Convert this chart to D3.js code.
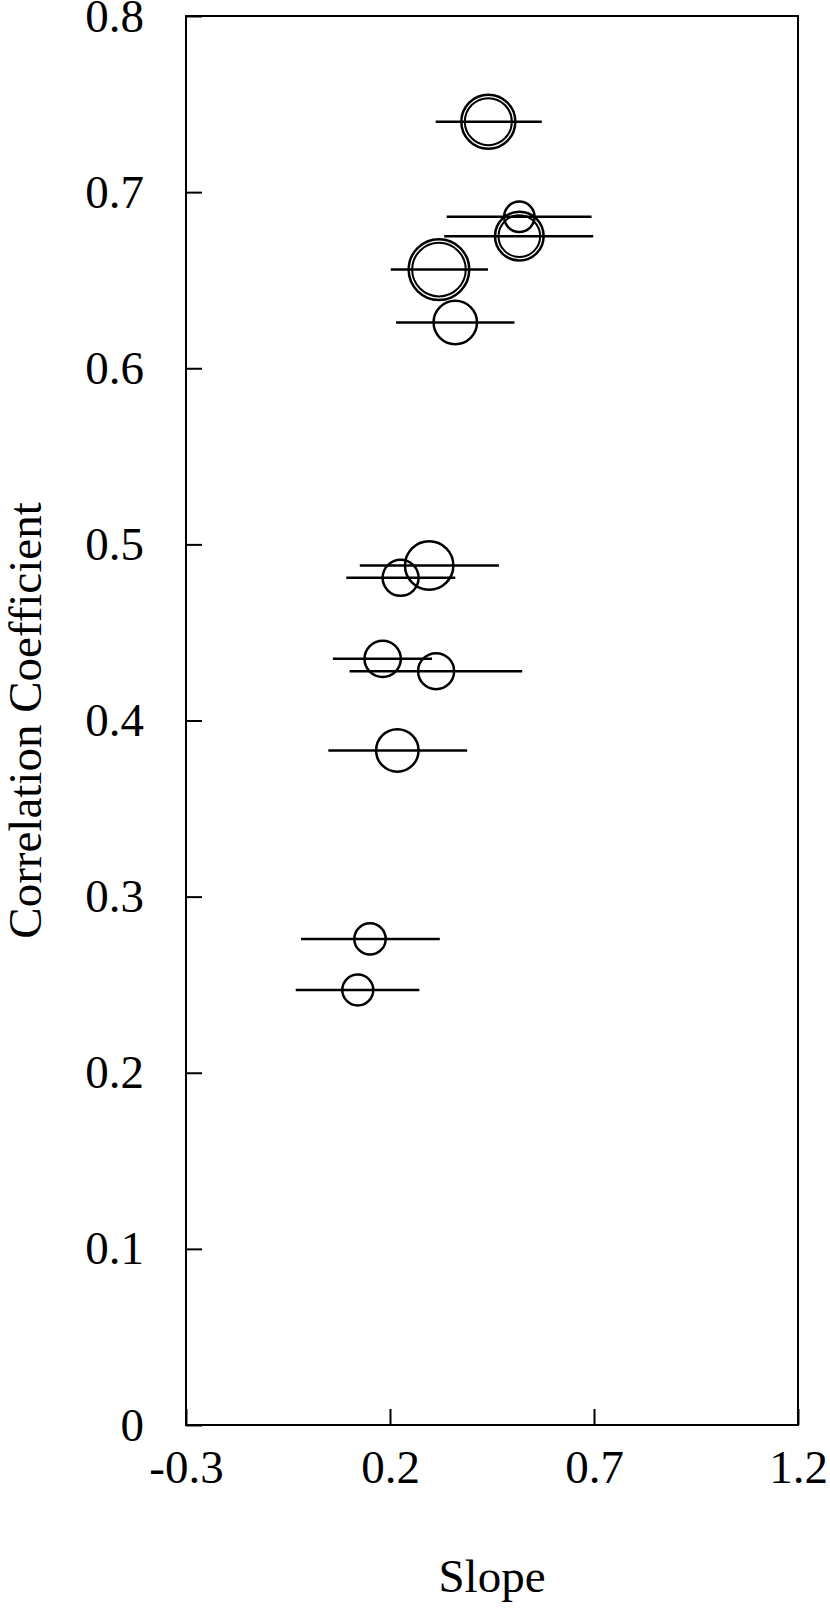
<!DOCTYPE html>
<html>
<head>
<meta charset="utf-8">
<script src="https://cdn.jsdelivr.net/npm/d3@7"></script>
<style>
  body { margin: 0; background: #fff; }
  text { font-family: "Liberation Serif", "Times New Roman", serif; fill: #000; }
</style>
</head>
<body>
<script>
// Data
var slope      = [0.441, 0.517, 0.517, 0.320, 0.360, 0.296, 0.226, 0.182, 0.313, 0.218, 0.151, 0.121];
var corr       = [0.740, 0.686, 0.675, 0.656, 0.626, 0.488, 0.481, 0.435, 0.428, 0.383, 0.276, 0.247];
var slopeLow   = [0.315, 0.342, 0.336, 0.205, 0.218, 0.129, 0.096, 0.063, 0.104, 0.052, -0.015, -0.028];
var slopeHigh  = [0.569, 0.691, 0.695, 0.437, 0.502, 0.464, 0.357, 0.300, 0.521, 0.386, 0.319, 0.269];
var weight     = [243, 77, 197, 306, 157, 195, 108, 110, 108, 150, 82, 80];
var doubleRing = [true, false, true, true, false, false, false, false, false, false, false, false];

var xTicks = [-0.3, 0.2, 0.7, 1.2];
var yTicks = [0, 0.1, 0.2, 0.3, 0.4, 0.5, 0.6, 0.7, 0.8];

var points = slope.map(function(s, i) {
  return { slope: s, corr: corr[i], lo: slopeLow[i], hi: slopeHigh[i], w: weight[i], dbl: doubleRing[i] };
});

// SVG area
var svgWidth = 830;
var svgHeight = 1608;

var chartMargin = { top: 16, right: 32, bottom: 183, left: 186 };

var chartWidth = svgWidth - chartMargin.left - chartMargin.right;
var chartHeight = svgHeight - chartMargin.top - chartMargin.bottom;

var svg = d3.select("body")
  .append("svg")
  .attr("width", svgWidth)
  .attr("height", svgHeight);

var chartGroup = svg.append("g")
  .attr("transform", `translate(${chartMargin.left}, ${chartMargin.top})`);

// scales
var x = d3.scaleLinear().domain([-0.3, 1.2]).range([0, chartWidth]);
var y = d3.scaleLinear().domain([0, 0.8]).range([chartHeight, 0]);
var r = d3.scaleSqrt().domain([0, 306]).range([0, 30.3]);

var fontSize = 47;

// x axis, ticks pointing in
var xAxis = chartGroup.append("g")
  .attr("transform", "translate(0," + chartHeight + ")")
  .call(d3.axisBottom(x).tickValues(xTicks).tickSizeInner(-16).tickSizeOuter(0).tickPadding(25)
    .tickFormat(d3.format(".1f")));

// y axis
var yAxis = chartGroup.append("g")
  .call(d3.axisLeft(y).tickValues(yTicks).tickSizeInner(-16).tickSizeOuter(0).tickPadding(42)
    .tickFormat(function(d) { return d === 0 ? "0" : d3.format(".1f")(d); }));

[xAxis, yAxis].forEach(function(a) {
  a.select(".domain").remove();
  a.selectAll(".tick line").attr("stroke", "#000").attr("stroke-width", 2);
  a.selectAll(".tick text")
    .style("font-family", '"Liberation Serif", "Times New Roman", serif')
    .style("font-size", fontSize + "px")
    .attr("fill", "#000");
});
xAxis.selectAll(".tick text").text(function(d) { return d < 0 ? "-" + d3.format(".1f")(-d) : d3.format(".1f")(d); });

// frame
chartGroup.append("rect")
  .attr("x", 0)
  .attr("y", 0)
  .attr("width", chartWidth)
  .attr("height", chartHeight)
  .attr("fill", "none")
  .attr("stroke", "#000")
  .attr("stroke-width", 2);

// error bars
chartGroup.selectAll(".err")
  .data(points)
  .enter()
  .append("line")
  .attr("class", "err")
  .attr("x1", function(d) { return x(d.lo); })
  .attr("x2", function(d) { return x(d.hi); })
  .attr("y1", function(d) { return y(d.corr); })
  .attr("y2", function(d) { return y(d.corr); })
  .attr("stroke", "#000")
  .attr("stroke-width", 2.5)
  .attr("stroke-linecap", "square");

// circles
var gdots = chartGroup.selectAll(".pt")
  .data(points)
  .enter()
  .append("g")
  .attr("class", "pt");

gdots.append("circle")
  .attr("cx", function(d) { return x(d.slope); })
  .attr("cy", function(d) { return y(d.corr); })
  .attr("r", function(d) { return r(d.w); })
  .attr("fill", "none")
  .attr("stroke", "#000")
  .attr("stroke-width", 2.5);

// inner ring for the double-ringed points
gdots.filter(function(d) { return d.dbl; })
  .append("circle")
  .attr("cx", function(d) { return x(d.slope); })
  .attr("cy", function(d) { return y(d.corr); })
  .attr("r", function(d) { return r(d.w) - 3.5; })
  .attr("fill", "none")
  .attr("stroke", "#000")
  .attr("stroke-width", 2);

// axis titles
svg.append("text")
  .attr("x", chartMargin.left + chartWidth / 2)
  .attr("y", 1592)
  .attr("text-anchor", "middle")
  .style("font-size", fontSize + "px")
  .text("Slope");

svg.append("text")
  .attr("transform", "translate(41," + (chartMargin.top + chartHeight / 2) + ") rotate(-90)")
  .attr("text-anchor", "middle")
  .style("font-size", fontSize + "px")
  .text("Correlation Coefficient");
</script>
</body>
</html>
